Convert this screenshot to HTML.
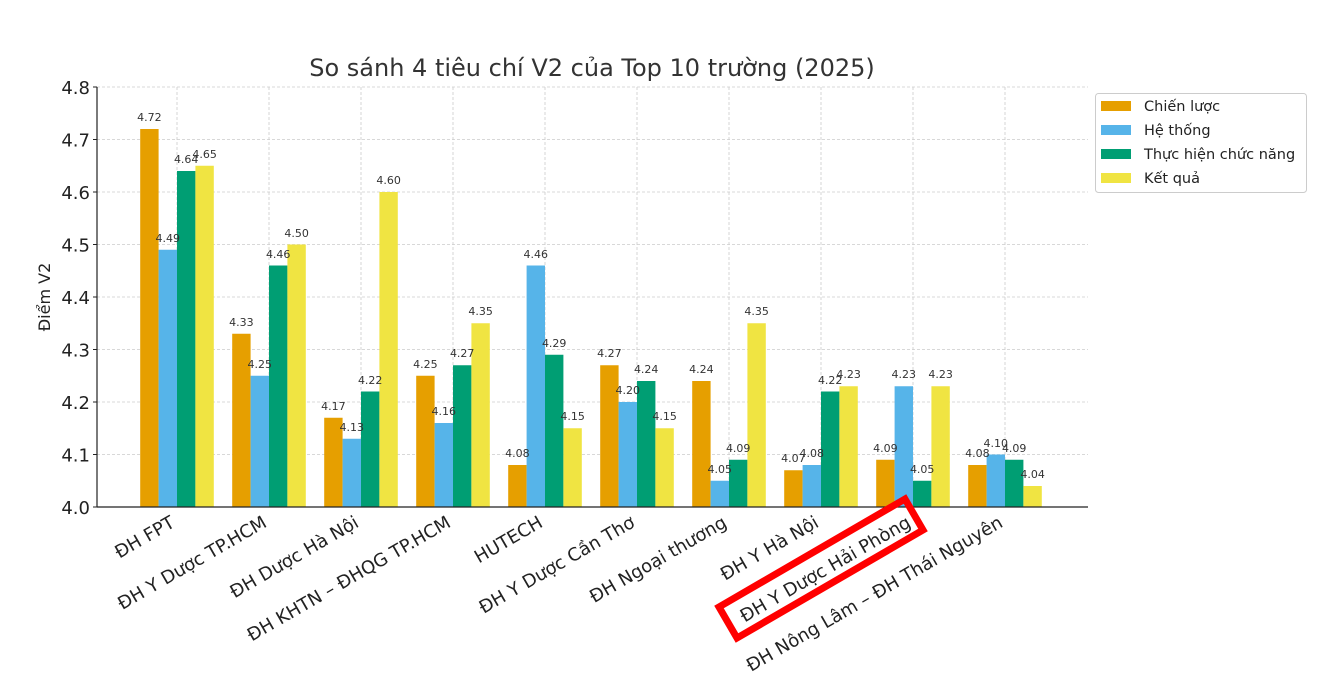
<!DOCTYPE html>
<html><head><meta charset="utf-8"><style>
body{margin:0;background:#fff}
svg{display:block;font-family:"DejaVu Sans","Liberation Sans",sans-serif}
.v{font-size:11px;fill:#333;text-anchor:middle}
.t{font-size:18px;fill:#222}
.g{stroke:#ccc;stroke-width:0.8;stroke-dasharray:3,2}
</style></head><body>
<svg width="1322" height="686" viewBox="0 0 1322 686">
<rect width="1322" height="686" fill="#fff"/>
<text x="592" y="76" font-size="24" fill="#333" text-anchor="middle">So sánh 4 tiêu chí V2 của Top 10 trường (2025)</text>
<g class="g">
<line x1="97" x2="1088" y1="87" y2="87"/><line x1="97" x2="1088" y1="139.5" y2="139.5"/><line x1="97" x2="1088" y1="192" y2="192"/><line x1="97" x2="1088" y1="244.5" y2="244.5"/><line x1="97" x2="1088" y1="297" y2="297"/><line x1="97" x2="1088" y1="349.5" y2="349.5"/><line x1="97" x2="1088" y1="402" y2="402"/><line x1="97" x2="1088" y1="454.5" y2="454.5"/>
<line x1="177" x2="177" y1="87" y2="507"/><line x1="269" x2="269" y1="87" y2="507"/><line x1="361" x2="361" y1="87" y2="507"/><line x1="453" x2="453" y1="87" y2="507"/><line x1="545" x2="545" y1="87" y2="507"/><line x1="637" x2="637" y1="87" y2="507"/><line x1="729" x2="729" y1="87" y2="507"/><line x1="821" x2="821" y1="87" y2="507"/><line x1="913" x2="913" y1="87" y2="507"/><line x1="1005" x2="1005" y1="87" y2="507"/>
</g>
<g fill="#E69F00">
<rect x="140.2" y="129" width="18.4" height="378"/><rect x="232.2" y="333.75" width="18.4" height="173.25"/><rect x="324.2" y="417.75" width="18.4" height="89.25"/><rect x="416.2" y="375.75" width="18.4" height="131.25"/><rect x="508.2" y="465" width="18.4" height="42"/><rect x="600.2" y="365.25" width="18.4" height="141.75"/><rect x="692.2" y="381" width="18.4" height="126"/><rect x="784.2" y="470.25" width="18.4" height="36.75"/><rect x="876.2" y="459.75" width="18.4" height="47.25"/><rect x="968.2" y="465" width="18.4" height="42"/>
</g>
<g fill="#56B4E9">
<rect x="158.6" y="249.75" width="18.4" height="257.25"/><rect x="250.6" y="375.75" width="18.4" height="131.25"/><rect x="342.6" y="438.75" width="18.4" height="68.25"/><rect x="434.6" y="423" width="18.4" height="84"/><rect x="526.6" y="265.5" width="18.4" height="241.5"/><rect x="618.6" y="402" width="18.4" height="105"/><rect x="710.6" y="480.75" width="18.4" height="26.25"/><rect x="802.6" y="465" width="18.4" height="42"/><rect x="894.6" y="386.25" width="18.4" height="120.75"/><rect x="986.6" y="454.5" width="18.4" height="52.5"/>
</g>
<g fill="#009E73">
<rect x="177" y="171" width="18.4" height="336"/><rect x="269" y="265.5" width="18.4" height="241.5"/><rect x="361" y="391.5" width="18.4" height="115.5"/><rect x="453" y="365.25" width="18.4" height="141.75"/><rect x="545" y="354.75" width="18.4" height="152.25"/><rect x="637" y="381" width="18.4" height="126"/><rect x="729" y="459.75" width="18.4" height="47.25"/><rect x="821" y="391.5" width="18.4" height="115.5"/><rect x="913" y="480.75" width="18.4" height="26.25"/><rect x="1005" y="459.75" width="18.4" height="47.25"/>
</g>
<g fill="#F0E442">
<rect x="195.4" y="165.75" width="18.4" height="341.25"/><rect x="287.4" y="244.5" width="18.4" height="262.5"/><rect x="379.4" y="192" width="18.4" height="315"/><rect x="471.4" y="323.25" width="18.4" height="183.75"/><rect x="563.4" y="428.25" width="18.4" height="78.75"/><rect x="655.4" y="428.25" width="18.4" height="78.75"/><rect x="747.4" y="323.25" width="18.4" height="183.75"/><rect x="839.4" y="386.25" width="18.4" height="120.75"/><rect x="931.4" y="386.25" width="18.4" height="120.75"/><rect x="1023.4" y="486" width="18.4" height="21"/>
</g>
<g class="v">
<text x="149.4" y="121">4.72</text><text x="167.8" y="242">4.49</text><text x="186.2" y="163">4.64</text><text x="204.6" y="158">4.65</text>
<text x="241.4" y="326">4.33</text><text x="259.8" y="368">4.25</text><text x="278.2" y="258">4.46</text><text x="296.6" y="237">4.50</text>
<text x="333.4" y="410">4.17</text><text x="351.8" y="431">4.13</text><text x="370.2" y="384">4.22</text><text x="388.6" y="184">4.60</text>
<text x="425.4" y="368">4.25</text><text x="443.8" y="415">4.16</text><text x="462.2" y="357">4.27</text><text x="480.6" y="315">4.35</text>
<text x="517.4" y="457">4.08</text><text x="535.8" y="258">4.46</text><text x="554.2" y="347">4.29</text><text x="572.6" y="420">4.15</text>
<text x="609.4" y="357">4.27</text><text x="627.8" y="394">4.20</text><text x="646.2" y="373">4.24</text><text x="664.6" y="420">4.15</text>
<text x="701.4" y="373">4.24</text><text x="719.8" y="473">4.05</text><text x="738.2" y="452">4.09</text><text x="756.6" y="315">4.35</text>
<text x="793.4" y="462">4.07</text><text x="811.8" y="457">4.08</text><text x="830.2" y="384">4.22</text><text x="848.6" y="378">4.23</text>
<text x="885.4" y="452">4.09</text><text x="903.8" y="378">4.23</text><text x="922.2" y="473">4.05</text><text x="940.6" y="378">4.23</text>
<text x="977.4" y="457">4.08</text><text x="995.8" y="447">4.10</text><text x="1014.2" y="452">4.09</text><text x="1032.6" y="478">4.04</text>
</g>
<line x1="97" x2="97" y1="87" y2="507" stroke="#222" stroke-width="1.2"/>
<line x1="97" x2="1088" y1="507" y2="507" stroke="#222" stroke-width="1.2"/>
<g stroke="#222" stroke-width="1">
<line x1="93" x2="97" y1="87" y2="87"/><line x1="93" x2="97" y1="139.5" y2="139.5"/><line x1="93" x2="97" y1="192" y2="192"/><line x1="93" x2="97" y1="244.5" y2="244.5"/><line x1="93" x2="97" y1="297" y2="297"/><line x1="93" x2="97" y1="349.5" y2="349.5"/><line x1="93" x2="97" y1="402" y2="402"/><line x1="93" x2="97" y1="454.5" y2="454.5"/><line x1="93" x2="97" y1="507" y2="507"/>
</g>
<g class="t" text-anchor="end">
<text x="90" y="94">4.8</text><text x="90" y="146.5">4.7</text><text x="90" y="199">4.6</text><text x="90" y="251.5">4.5</text><text x="90" y="304">4.4</text><text x="90" y="356.5">4.3</text><text x="90" y="409">4.2</text><text x="90" y="461.5">4.1</text><text x="90" y="514">4.0</text>
</g>
<text transform="translate(50,297) rotate(-90)" font-size="16" fill="#222" text-anchor="middle">Điểm V2</text>
<g class="t" text-anchor="end">
<text transform="translate(176,526) rotate(-30)">ĐH FPT</text>
<text transform="translate(268,526) rotate(-30)">ĐH Y Dược TP.HCM</text>
<text transform="translate(360,526) rotate(-30)">ĐH Dược Hà Nội</text>
<text transform="translate(452,526) rotate(-30)">ĐH KHTN – ĐHQG TP.HCM</text>
<text transform="translate(544,526) rotate(-30)">HUTECH</text>
<text transform="translate(636,526) rotate(-30)">ĐH Y Dược Cần Thơ</text>
<text transform="translate(728,526) rotate(-30)">ĐH Ngoại thương</text>
<text transform="translate(820,526) rotate(-30)">ĐH Y Hà Nội</text>
<text transform="translate(912,526) rotate(-30)">ĐH Y Dược Hải Phòng</text>
<text transform="translate(1004,526) rotate(-30)">ĐH Nông Lâm – ĐH Thái Nguyên</text>
</g>
<polygon points="719,607 905,499 923,530 737,638" fill="none" stroke="#f00" stroke-width="7"/>
<rect x="1095.5" y="93.5" width="211" height="99" rx="3" fill="#fff" stroke="#ccc"/>
<rect x="1101" y="101" width="30" height="10" fill="#E69F00"/>
<rect x="1101" y="125" width="30" height="10" fill="#56B4E9"/>
<rect x="1101" y="149" width="30" height="10" fill="#009E73"/>
<rect x="1101" y="173" width="30" height="10" fill="#F0E442"/>
<g font-size="14.5" fill="#222">
<text x="1144" y="111">Chiến lược</text>
<text x="1144" y="135">Hệ thống</text>
<text x="1144" y="159">Thực hiện chức năng</text>
<text x="1144" y="183">Kết quả</text>
</g>
</svg>
</body></html>
